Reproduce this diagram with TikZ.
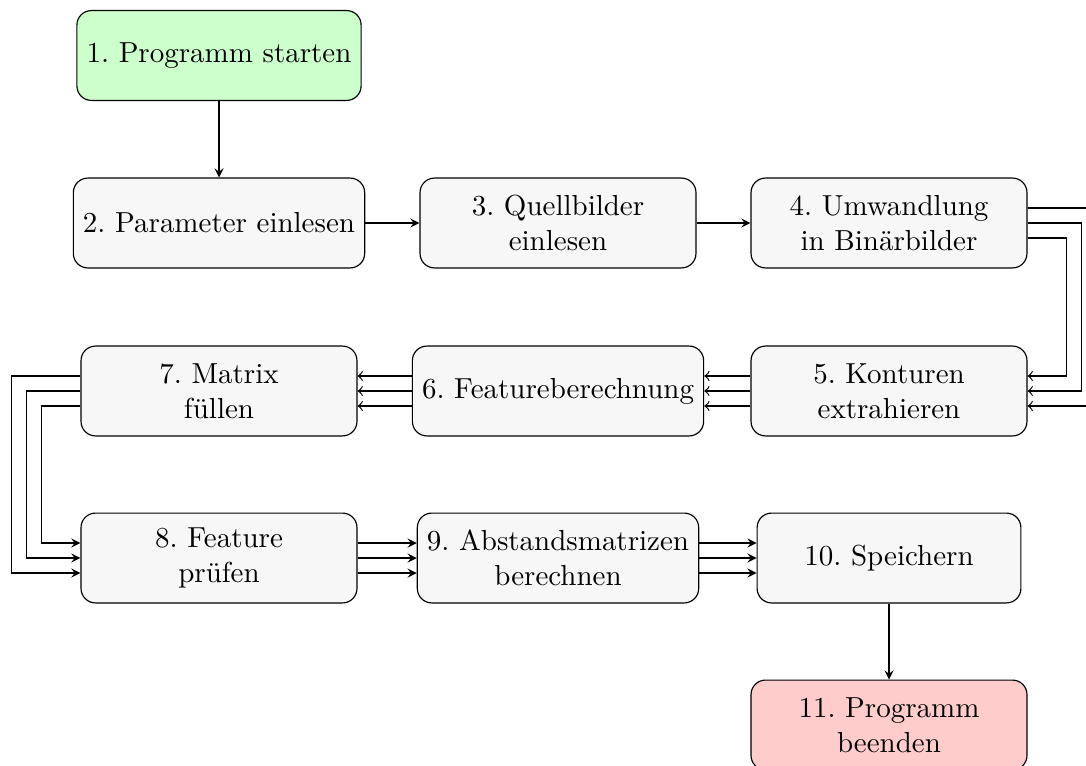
\documentclass[tikz,border=0pt]{standalone}
\usepackage{fontspec}
\frenchspacing
\usetikzlibrary{calc}
\definecolor{boxfill}{HTML}{F7F7F7}
\definecolor{startfill}{HTML}{CCFFCC}
\definecolor{endfill}{HTML}{FFCCCC}
\begin{document}
\begin{tikzpicture}[
  x=0.345pt, y=-0.345pt,
  stepbox/.style={draw=black, fill=boxfill, rounded corners=5pt, align=center,
    minimum height=31pt, minimum width=95.2pt, inner sep=3.33pt},
  startbox/.style={stepbox, fill=startfill},
  endbox/.style={stepbox, fill=endfill},
  flow/.style={-stealth, line width=0.4pt},
  back/.style={-to, line width=0.4pt}
]
\useasboundingbox (0,0) rectangle (1086,765);

% process steps
\node[startbox] (n1) at (219,55.5) {1. Programm starten};
\node[stepbox] (n2) at (219,223) {2. Parameter einlesen};
\node[stepbox] (n3) at (558,223) {3. Quellbilder\\einlesen};
\node[stepbox] (n4) at (889,223) {4. Umwandlung\\in Binärbilder};
\node[stepbox] (n5) at (889,391) {5. Konturen\\extrahieren};
\node[stepbox] (n6) at (558,391) {6. Featureberechnung};
\node[stepbox] (n7) at (219,391) {7. Matrix\\füllen};
\node[stepbox] (n8) at (219,558) {8. Feature\\prüfen};
\node[stepbox] (n9) at (558,558) {9. Abstandsmatrizen\\berechnen};
\node[stepbox, minimum width=91pt] (n10) at (889,558) {10. Speichern};
\node[endbox] (n11) at (889,725) {11. Programm\\beenden};

% single connections
\draw[flow] (n1) -- (n2);
\draw[flow] (n2) -- (n3);
\draw[flow] (n3) -- (n4);
\draw[flow] (n10) -- (n11);

% three parallel lines from 4 to 5 around the right side
\draw[back] ($(n4.east)+(0,-15)$) -- ++(69,0) |- ($(n5.east)+(0,15)$);
\draw[back] (n4.east) -- ++(54,0) |- (n5.east);
\draw[back] ($(n4.east)+(0,15)$) -- ++(39,0) |- ($(n5.east)+(0,-15)$);

% three parallel lines 5 -> 6 -> 7
\foreach \d in {-15,0,15} {
  \draw[back] ($(n5.west)+(0,\d)$) -- ($(n6.east)+(0,\d)$);
  \draw[back] ($(n6.west)+(0,\d)$) -- ($(n7.east)+(0,\d)$);
}

% three parallel lines from 7 to 8 around the left side
\draw[flow] ($(n7.west)+(0,-15)$) -- ++(-69,0) |- ($(n8.west)+(0,15)$);
\draw[flow] (n7.west) -- ++(-54,0) |- (n8.west);
\draw[flow] ($(n7.west)+(0,15)$) -- ++(-39,0) |- ($(n8.west)+(0,-15)$);

% three parallel lines 8 -> 9 -> 10
\foreach \d in {-15,0,15} {
  \draw[flow] ($(n8.east)+(0,\d)$) -- ($(n9.west)+(0,\d)$);
  \draw[flow] ($(n9.east)+(0,\d)$) -- ($(n10.west)+(0,\d)$);
}
\end{tikzpicture}
\end{document}
